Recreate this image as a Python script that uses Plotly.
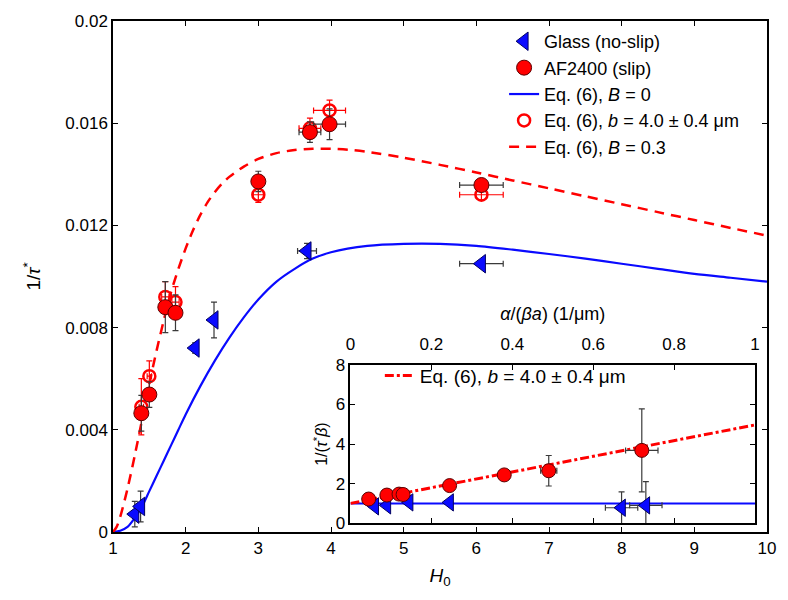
import plotly.graph_objects as go

# ---------------- main panel data ----------------
glass_h = [1.30, 1.38, 2.13, 2.39, 3.67, 6.07]
glass_y = [0.0007, 0.0010, 0.0072, 0.0083, 0.0110, 0.0105]
glass_yerr = [0.0005, 0.0006, 0.0002, 0.0007, 0.0003, 0.0001]
glass_xerr = [0.03, 0.03, 0.03, 0.03, 0.13, 0.30]

af_h = [1.39, 1.50, 1.72, 1.86, 3.00, 3.71, 3.98, 6.07]
af_y = [0.00465, 0.00538, 0.0088, 0.00858, 0.01372, 0.01565, 0.01596, 0.01358]
af_yerr = [0.0007, 0.0005, 0.0010, 0.0007, 0.0004, 0.0004, 0.0006, 0.0002]
af_xerr = [0.03, 0.03, 0.05, 0.05, 0.07, 0.15, 0.22, 0.30]

model_b_y = [0.0049, 0.0061, 0.0092, 0.0090, 0.0132, 0.0158, 0.0165, 0.0132]
model_b_yerr = [0.0011, 0.0006, 0.0006, 0.0006, 0.0003, 0.0004, 0.0004, 0.0002]

b0_h = [1.0, 1.1, 1.2, 1.3, 1.4, 1.5, 1.6, 1.7, 1.8, 1.9, 2.0, 2.2, 2.4, 2.6, 2.8,
        3.0, 3.25, 3.5, 3.75, 4.0, 4.5, 5.0, 5.5, 6.0, 6.5, 7.0, 7.5, 8.0, 8.5,
        9.0, 9.5, 10.0]
b0_y = [0.0, 0.00005, 0.0002, 0.00055, 0.0010, 0.0016, 0.0022, 0.0028, 0.0034,
        0.0040, 0.0046, 0.0057, 0.0067, 0.0076, 0.0084, 0.0091, 0.0098, 0.0103,
        0.0107, 0.01095, 0.0112, 0.01128, 0.01128, 0.0112, 0.01105, 0.01088,
        0.0107, 0.0105, 0.0103, 0.0101, 0.00995, 0.0098]

b03_h = [1.0, 1.05, 1.1, 1.2, 1.3, 1.4, 1.5, 1.6, 1.7, 1.8, 1.9, 2.0, 2.1, 2.2,
         2.3, 2.4, 2.5, 2.6, 2.8, 3.0, 3.25, 3.5, 3.75, 4.0, 4.25, 4.5, 5.0,
         5.5, 6.0, 6.5, 7.0, 7.5, 8.0, 8.5, 9.0, 9.5, 10.0]
b03_y = [0.0, 0.0002, 0.0006, 0.0017, 0.0030, 0.0044, 0.0058, 0.0071, 0.0083,
         0.0094, 0.0103, 0.0111, 0.0118, 0.0124, 0.0129, 0.0133, 0.01363, 0.0139,
         0.0143, 0.0146, 0.01483, 0.01495, 0.0150, 0.0150, 0.01496, 0.01488,
         0.01465, 0.01437, 0.01407, 0.01376, 0.01345, 0.01314, 0.01283, 0.01252,
         0.01221, 0.0119, 0.0116]

x_ticks = [1, 2, 3, 4, 5, 6, 7, 8, 9, 10]
y_ticks = [0, 0.004, 0.008, 0.012, 0.016, 0.02]
y_ticklabels = ["0", "0.004", "0.008", "0.012", "0.016", "0.02"]

# ---------------- inset data ----------------
in_af_x = [0.045, 0.09, 0.12, 0.13, 0.245, 0.38, 0.49, 0.72]
in_af_y = [1.22, 1.42, 1.47, 1.45, 1.90, 2.44, 2.65, 3.68]
in_af_yerr = [0.15, 0.15, 0.15, 0.15, 0.2, 0.2, 0.77, 2.1]
in_af_xerr = [0.0, 0.0, 0.0, 0.0, 0.0, 0.0, 0.02, 0.04]

in_gl_x = [0.06, 0.09, 0.145, 0.245, 0.67, 0.73]
in_gl_y = [0.85, 0.90, 1.05, 1.05, 0.78, 0.90]
in_gl_yerr = [0.1, 0.1, 0.1, 0.1, 0.8, 1.2]
in_gl_xerr = [0.0, 0.0, 0.0, 0.0, 0.04, 0.04]

in_line_x = [0.0, 1.0]
in_line_b = [1.0, 4.97]
in_line_noslip = [1.0, 1.0]

in_x_ticks = [0, 0.2, 0.4, 0.6, 0.8, 1]
in_x_ticklabels = ["0", "0.2", "0.4", "0.6", "0.8", "1"]
in_y_ticks = [0, 2, 4, 6, 8]

FONT = "Liberation Sans, Arial, sans-serif"
BLUE = "#0a0aff"
RED = "#ff0000"
ERR = "#3a3a3a"

fig = go.Figure()

# curves
fig.add_trace(go.Scatter(x=b0_h, y=b0_y, mode="lines",
                         line=dict(color=BLUE, width=2.2, shape="spline", smoothing=0.8),
                         name="Eq. (6), <i>B</i> = 0", legendrank=3))
fig.add_trace(go.Scatter(x=b03_h, y=b03_y, mode="lines",
                         line=dict(color=RED, width=2.5, dash="10px,7px", shape="spline", smoothing=0.8),
                         name="Eq. (6), <i>B</i> = 0.3", legendrank=5))

# open circles (model b)
fig.add_trace(go.Scatter(x=af_h, y=model_b_y, mode="markers",
                         marker=dict(symbol="circle-open", size=12, color=RED, line=dict(width=2.5, color=RED)),
                         error_y=dict(type="data", array=model_b_yerr, color=RED, thickness=1.2, width=3),
                         error_x=dict(type="data", array=af_xerr, color=RED, thickness=1.2, width=3),
                         name="Eq. (6), <i>b</i> = 4.0 ± 0.4 μm", legendrank=4))

# AF2400 data
fig.add_trace(go.Scatter(x=af_h, y=af_y, mode="markers",
                         marker=dict(symbol="circle", size=15, color=RED, line=dict(width=1, color="#5a0000")),
                         error_y=dict(type="data", array=af_yerr, color=ERR, thickness=1.2, width=3),
                         error_x=dict(type="data", array=af_xerr, color=ERR, thickness=1.2, width=3),
                         name="AF2400 (slip)", legendrank=2))

# glass data
fig.add_trace(go.Scatter(x=glass_h, y=glass_y, mode="markers",
                         marker=dict(symbol="triangle-left", size=16, color=BLUE, line=dict(width=1, color="#000060")),
                         error_y=dict(type="data", array=glass_yerr, color=ERR, thickness=1.2, width=3),
                         error_x=dict(type="data", array=glass_xerr, color=ERR, thickness=1.2, width=3),
                         name="Glass (no-slip)", legendrank=1))

# inset traces
fig.add_trace(go.Scatter(x=in_line_x, y=in_line_noslip, mode="lines", xaxis="x2", yaxis="y2",
                         line=dict(color=BLUE, width=2), showlegend=False))
fig.add_trace(go.Scatter(x=in_line_x, y=in_line_b, mode="lines", xaxis="x2", yaxis="y2",
                         line=dict(color=RED, width=3, dash="dashdot"),
                         name="Eq. (6), <i>b</i> = 4.0 ± 0.4 μm", legend="legend2"))
fig.add_trace(go.Scatter(x=in_gl_x, y=in_gl_y, mode="markers", xaxis="x2", yaxis="y2",
                         marker=dict(symbol="triangle-left", size=15, color=BLUE, line=dict(width=1, color="#000060")),
                         error_y=dict(type="data", array=in_gl_yerr, color=ERR, thickness=1.2, width=3),
                         error_x=dict(type="data", array=in_gl_xerr, color=ERR, thickness=1.2, width=3),
                         showlegend=False))
fig.add_trace(go.Scatter(x=in_af_x, y=in_af_y, mode="markers", xaxis="x2", yaxis="y2",
                         marker=dict(symbol="circle", size=14, color=RED, line=dict(width=1, color="#5a0000")),
                         error_y=dict(type="data", array=in_af_yerr, color=ERR, thickness=1.2, width=3),
                         error_x=dict(type="data", array=in_af_xerr, color=ERR, thickness=1.2, width=3),
                         showlegend=False))

axis_common = dict(showline=True, linecolor="black", linewidth=1.5, mirror="ticks",
                   ticks="inside", ticklen=5, tickwidth=1.2, tickcolor="black",
                   showgrid=False, zeroline=False,
                   tickfont=dict(family=FONT, size=17, color="black"))

fig.update_layout(
    width=788, height=600,
    margin=dict(l=113, r=14, t=12, b=68),
    paper_bgcolor="white", plot_bgcolor="white",
    font=dict(family=FONT, size=16, color="black"),
    xaxis=dict(range=[1, 10], tickvals=x_ticks, domain=[0, 1],
               title=dict(text="<i>H</i><sub>0</sub>", font=dict(size=19), standoff=12), **axis_common),
    yaxis=dict(range=[0, 0.02], tickvals=y_ticks, ticktext=y_ticklabels, domain=[0, 1],
               title=dict(text="1/<i>τ</i><sup>*</sup>", font=dict(size=19), standoff=20), **axis_common),
    xaxis2=dict(range=[0, 1], tickvals=in_x_ticks, ticktext=in_x_ticklabels,
                domain=[0.3631, 0.9818], anchor="y2", side="top", ticklabelstandoff=6,
                title=dict(text="<i>α</i>/(<i>βa</i>) (1/μm)", font=dict(size=18), standoff=10), **axis_common),
    yaxis2=dict(range=[0, 8], tickvals=in_y_ticks, domain=[0.0173, 0.3269], anchor="x2",
                title=dict(text="1/(<i>τ</i><sup>*</sup><i>β</i>)", font=dict(size=16), standoff=4), **axis_common),
    legend=dict(x=0.598, y=0.996, xanchor="left", yanchor="top", bgcolor="rgba(0,0,0,0)",
                font=dict(family=FONT, size=18), tracegroupgap=0),
    legend2=dict(x=0.408, y=0.343, xanchor="left", yanchor="top", bgcolor="rgba(0,0,0,0)",
                 font=dict(family=FONT, size=19)),
)

fig.write_html("out.html")
